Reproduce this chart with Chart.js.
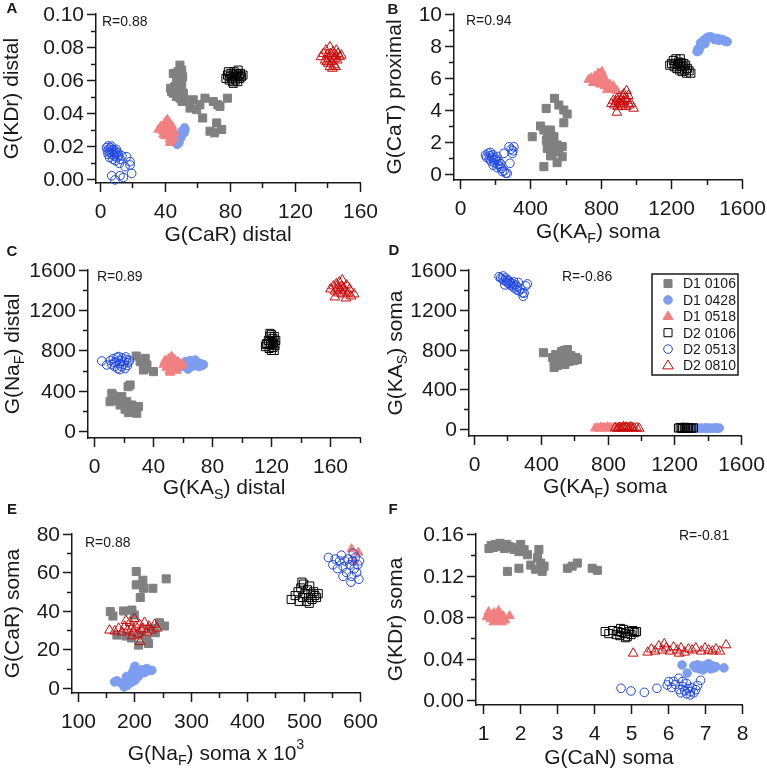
<!DOCTYPE html>
<html>
<head>
<meta charset="utf-8">
<script src="https://cdn.jsdelivr.net/npm/chart.js@4.4.1/dist/chart.umd.min.js"></script>
<style>
  html, body { margin: 0; padding: 0; background: #fff; }
  #wrap { position: relative; width: 767px; height: 773px; }
  #wrap canvas { position: absolute; left: 0; top: 0; }
</style>
</head>
<body>
<div id="wrap"></div>
<script>
const seriesNames = ['D1 0106', 'D1 0428', 'D1 0518', 'D2 0106', 'D2 0513', 'D2 0810'];

// panel A: G(CaR) distal vs G(KDr) distal
const aD1_0106 = [[49.2,0.069],[50.3,0.066],[45.1,0.064],[48,0.065],[50.9,0.062],[47.2,0.060],[49,0.058],[50.3,0.057],[43.5,0.055],[46,0.056],[48.2,0.054],[51.3,0.052],[45.1,0.052],[44,0.053],[49.2,0.049],[52.3,0.048],[47,0.050],[57.4,0.048],[64.6,0.049],[69.7,0.047],[73.8,0.044],[72.5,0.045],[61.5,0.045],[55.4,0.043],[59.5,0.042],[63.2,0.037],[71.8,0.034],[67.7,0.029],[74.9,0.030],[70.5,0.028],[78.4,0.049],[50.5,0.047]];
const aD1_0428 = [[47.0,0.022],[47.8,0.023],[48.3,0.024],[48.0,0.025],[49.0,0.026],[49.5,0.027],[50.2,0.027],[50.8,0.028],[51.5,0.029],[52.3,0.030],[51.8,0.028],[49.8,0.025],[48.6,0.022],[47.5,0.021],[50.5,0.029],[52.0,0.031]];
const aD1_0518 = [[36.0,0.030],[37.5,0.032],[38.5,0.029],[39.5,0.033],[40.5,0.035],[41.5,0.036],[42.5,0.034],[43.0,0.031],[44.5,0.032],[41.0,0.029],[39.0,0.027],[40.2,0.026],[42.0,0.027],[43.5,0.028],[44.8,0.026],[42.8,0.024],[44.0,0.023],[45.5,0.025],[41.8,0.031],[38.2,0.031],[43.0,0.022],[46.0,0.028]];
const aD2_0106 = [[77.5,0.061],[78.5,0.063],[79.5,0.060],[80.0,0.062],[80.5,0.064],[81.0,0.061],[81.5,0.059],[82.0,0.063],[82.5,0.065],[83.0,0.062],[83.5,0.060],[84.0,0.064],[84.5,0.062],[85.0,0.066],[85.5,0.063],[86.0,0.061],[86.5,0.064],[87.0,0.062],[88.0,0.063],[79.0,0.065],[82.0,0.058],[84.8,0.059]];
const aD2_0513 = [[4.0,0.019],[4.5,0.017],[5.0,0.020],[5.5,0.018],[6.0,0.016],[6.5,0.019],[7.0,0.017],[7.5,0.015],[8.0,0.018],[8.5,0.016],[9.0,0.014],[9.5,0.017],[10.0,0.015],[10.5,0.013],[11.0,0.016],[11.5,0.014],[12.5,0.012],[13.5,0.014],[6.0,0.013],[8.0,0.012],[9.5,0.011],[5.0,0.015],[7.0,0.020],[10.0,0.018],[7.2,0.002],[9.2,-0.0005],[12.3,0.002],[14.4,0.001],[19.5,0.0034],[18.5,0.0085],[15.4,0.0075],[18.5,0.0105],[16.4,0.0135],[12.0,0.0095]];
const aD2_0810 = [[136.0,0.074],[137.5,0.076],[138.5,0.072],[139.0,0.078],[140.0,0.075],[140.5,0.070],[141.0,0.073],[141.5,0.080],[142.0,0.076],[142.5,0.071],[143.0,0.074],[143.5,0.077],[144.0,0.069],[144.5,0.073],[145.0,0.075],[145.5,0.078],[146.0,0.072],[146.5,0.076],[147.5,0.074],[148.5,0.075],[143.0,0.067],[141.5,0.068],[139.5,0.071],[145.0,0.068]];

// panel B: G(KAF) soma vs G(CaT) proximal
const bD1_0106 = [[536,4.73],[561,4.31],[489,4.10],[589,4.0],[608,3.75],[589,3.2],[457,3.0],[476,2.75],[514,2.75],[410,2.33],[495,2.44],[533,2.33],[502,1.92],[551,1.81],[580,1.71],[495,1.6],[533,1.46],[561,1.4],[514,1.13],[580,1.08],[551,0.71],[476,0.46],[523,1.29],[545,1.55],[490,2.1]];
const bD1_0428 = [[1345,7.65],[1350,7.8],[1355,7.7],[1364,7.96],[1370,8.1],[1375,8.25],[1383,8.37],[1395,8.45],[1405,8.55],[1421,8.58],[1435,8.5],[1445,8.4],[1459,8.48],[1470,8.35],[1480,8.42],[1497,8.37],[1505,8.3],[1516,8.27],[1365,8.2],[1390,8.15]];
const bD1_0518 = [[730,5.9],[745,6.0],[755,5.7],[765,6.1],[775,5.8],[785,6.3],[790,6.0],[795,5.6],[800,5.9],[810,6.2],[815,5.7],[820,5.5],[830,5.8],[840,5.4],[850,5.6],[860,5.3],[870,5.5],[880,5.3],[805,6.4],[760,5.75],[835,5.25],[890,5.2]];
const bD2_0106 = [[1200,6.9],[1210,7.1],[1215,6.7],[1220,6.9],[1225,7.2],[1230,6.6],[1235,6.85],[1240,7.0],[1245,6.5],[1250,6.75],[1255,6.95],[1260,6.4],[1265,6.7],[1270,6.9],[1275,6.5],[1280,6.8],[1285,6.3],[1290,6.6],[1300,6.45],[1310,6.3],[1190,6.8],[1250,7.2]];
const bD2_0513 = [[150,1.05],[160,1.3],[165,0.95],[170,1.15],[175,0.8],[180,1.05],[185,1.2],[190,0.9],[195,0.7],[200,1.0],[205,0.85],[210,1.1],[215,0.6],[220,0.8],[225,0.5],[230,0.65],[235,0.35],[240,0.15],[250,0.2],[260,0.05],[268,0.04],[145,1.19],[278,1.7],[306,1.7],[297,1.29],[249,1.29],[283,0.67],[300,1.45],[290,1.55],[188,0.55],[172,1.35],[210,0.4]];
const bD2_0810 = [[860,4.4],[870,4.6],[875,4.3],[885,4.5],[890,4.7],[895,4.2],[900,4.5],[905,4.8],[910,4.4],[915,4.6],[920,4.3],[925,4.9],[930,4.5],[935,4.7],[940,4.2],[945,5.2],[950,4.6],[960,4.3],[970,4.4],[985,4.1],[890,3.85],[930,5.0],[955,4.9]];

// panel C: G(KAS) distal vs G(NaF) distal
const cD1_0106 = [[28.5,745],[34.6,722],[31.2,689],[35.8,656],[34.6,623],[40.2,590],[33.4,606],[24.4,457],[23,440],[12.0,374],[14.2,325],[10.8,291],[18.8,341],[22.1,291],[17.6,258],[25.5,258],[21.0,215],[26.7,209],[28.9,176],[23.3,182],[16.5,301],[30.1,242],[13,350],[20,270],[27,225]];
const cD1_0428 = [[59,640],[61,660],[62,690],[63,630],[64,660],[65,700],[66,640],[67,670],[68,650],[69,690],[70,660],[71,640],[72,670],[73,650],[74,660],[63.5,615],[68.5,705]];
const cD1_0518 = [[47,660],[48,700],[49,630],[50,680],[50.5,720],[51,600],[52,660],[52.5,740],[53,690],[54,630],[54.5,710],[55,660],[56,600],[56.5,690],[57,640],[58,670],[59,650],[60,665],[51.5,580],[49,690]];
const cD2_0106 = [[116,838],[117,870],[118,900],[118.5,820],[119,940],[119.5,860],[120,800],[120,960],[120.5,890],[121,830],[121,920],[121.5,870],[122,800],[122,940],[122.5,850],[123,900],[119,970],[116.5,860]];
const cD2_0513 = [[5.2,696],[8.6,656],[11,700],[12,660],[13,720],[14,640],[15,690],[16,620],[16.5,740],[17,670],[18,700],[18.5,640],[19,725],[20,660],[20.5,690],[21,620],[22,710],[22.5,650],[23,680],[24,700],[13.5,680],[15.5,730],[17.5,610],[21.5,735]];
const cD2_0810 = [[160,1410],[162,1440],[163,1390],[164,1460],[165,1420],[165.5,1370],[166,1480],[167,1400],[167.5,1440],[168,1360],[169,1420],[170,1390],[171,1450],[172,1370],[173,1410],[174,1340],[176,1360],[163,1330],[168,1500],[170.5,1320]];

// panel D: G(KAF) soma vs G(KAS) soma
const dD1_0106 = [[416,768],[470,720],[480,690],[490,750],[500,700],[505,660],[510,740],[520,710],[525,780],[530,680],[540,735],[545,650],[550,760],[555,700],[560,720],[570,680],[580,740],[590,700],[600,690],[610,720],[620,700],[480,619],[500,640],[560,800],[540,790]];
const dD1_0428 = [[1320,8],[1335,12],[1345,5],[1360,10],[1375,8],[1390,12],[1400,6],[1415,10],[1430,8],[1445,12],[1460,7],[1470,10]];
const dD1_0518 = [[725,8],[740,12],[750,5],[760,18],[770,10],[780,14],[790,6],[800,20],[810,9],[820,15],[830,7],[840,12],[850,18],[860,10],[875,8]];
const dD2_0106 = [[1225,10],[1235,16],[1245,6],[1250,14],[1260,8],[1265,18],[1270,12],[1280,6],[1285,15],[1295,10],[1305,8],[1315,12]];
const dD2_0513 = [[150,1533],[160,1520],[170,1510],[175,1540],[180,1495],[190,1520],[195,1480],[200,1500],[205,1465],[210,1490],[215,1450],[220,1470],[230,1440],[235,1460],[240,1420],[250,1450],[255,1400],[260,1430],[270,1390],[280,1410],[290,1370],[300,1367],[310,1440],[320,1460],[295,1335],[240,1480],[185,1450],[265,1475]];
const dD2_0810 = [[845,10],[860,6],[870,16],[880,12],[890,8],[895,22],[900,14],[910,10],[915,18],[925,6],[930,14],[940,20],[950,10],[960,8],[975,12],[990,6]];

// panel E: G(NaF) soma x 10^3 vs G(CaR) soma
const eD1_0106 = [[203.3,60.5],[203.3,53.6],[215.1,56.0],[216.2,51.8],[232.8,51.8],[210.4,47.0],[256.4,56.7],[157.3,39.7],[162,37.4],[180.9,40.0],[195.6,40.5],[199.8,37.9],[244.6,33.9],[253.5,32.2],[237,28.7],[222.2,25.2],[207.5,22.3],[225.1,23.1],[169,27.5],[185,27],[195,26],[212,27.5],[230,31]];
const eD1_0428 = [[165,3.2],[169,3.7],[175,2.8],[182,0.5],[184,2.3],[186,6],[190,4.5],[193,5.7],[196,7.5],[198,9],[201,11.3],[201,4],[204,8],[207,6],[210,7.5],[214,9.5],[218,8],[222,10.1],[226,9],[231,9.2],[195,3],[188,1.5]];
const eD1_0518 = [[585,72.2],[597,70.4],[590,66]];
const eD2_0106 = [[478,46],[485,48],[490,50],[492,45],[495,52],[498,47],[500,54],[502,49],[505,45],[507,51],[509,47],[511,53],[513,49],[515,46],[518,50],[520,48],[523,47],[526,49],[497,55],[510,44]];
const eD2_0513 = [[544,67.8],[552,64],[556,67],[560,62],[564,66],[567,69],[570,63],[573,66],[576,60],[579,67],[582,64],[585,58],[587,66],[590,62],[592,68],[594,60],[596,64],[598,56.5],[599,66],[584,55],[570,58],[588,70]];
const eD2_0810 = [[156,30],[165,29.5],[172,31],[178,29],[183,32],[188,30],[192,34],[195,31],[198,29],[200,36],[203,32],[206,28],[209,33],[212,30],[215,31],[218,34],[222,29],[226,32],[230,30],[236,33],[240,31],[210,24],[185,35],[196,27]];

// panel F: G(CaN) soma vs G(KDr) soma
const fD1_0106 = [[1.16,0.146],[1.22,0.149],[1.28,0.147],[1.34,0.150],[1.40,0.148],[1.46,0.151],[1.52,0.149],[1.58,0.146],[1.64,0.150],[1.70,0.148],[1.78,0.147],[1.84,0.145],[2.02,0.150],[2.11,0.145],[2.20,0.140],[1.97,0.143],[1.66,0.124],[1.97,0.127],[2.29,0.130],[2.51,0.145],[2.47,0.137],[2.56,0.132],[2.42,0.126],[2.60,0.124],[2.65,0.129],[3.28,0.127],[3.41,0.129],[3.55,0.132],[3.95,0.127],[4.09,0.125]];
const fD1_0428 = [[6.38,0.0338],[6.52,0.026],[6.70,0.033],[6.75,0.031],[6.80,0.034],[6.85,0.030],[6.90,0.032],[6.95,0.033],[7.00,0.031],[7.05,0.034],[7.10,0.032],[7.15,0.030],[7.20,0.033],[7.25,0.031],[7.30,0.032],[7.51,0.031],[6.95,0.029],[7.10,0.035]];
const fD1_0518 = [[1.10,0.080],[1.15,0.085],[1.20,0.078],[1.25,0.082],[1.30,0.084],[1.35,0.076],[1.40,0.080],[1.45,0.083],[1.50,0.078],[1.55,0.081],[1.60,0.077],[1.72,0.081],[1.28,0.075],[1.42,0.086],[1.52,0.075]];
const fD2_0106 = [[4.30,0.066],[4.40,0.064],[4.50,0.067],[4.60,0.063],[4.65,0.066],[4.70,0.062],[4.75,0.065],[4.80,0.068],[4.85,0.064],[4.90,0.061],[4.95,0.066],[5.00,0.063],[5.05,0.067],[5.10,0.065],[5.15,0.066],[4.85,0.060],[4.72,0.069]];
const fD2_0513 = [[4.73,0.0113],[5.0,0.0087],[5.36,0.0074],[5.7,0.0113],[5.98,0.0145],[6.02,0.0177],[6.29,0.021],[6.88,0.019],[6.10,0.012],[6.20,0.015],[6.30,0.010],[6.35,0.007],[6.40,0.013],[6.45,0.009],[6.50,0.006],[6.55,0.011],[6.60,0.008],[6.65,0.012],[6.70,0.007],[6.75,0.010],[6.80,0.014],[6.50,0.016],[6.40,0.018],[6.15,0.018],[6.60,0.005]];
const fD2_0810 = [[5.06,0.045],[5.45,0.046],[5.55,0.049],[5.65,0.047],[5.75,0.052],[5.85,0.048],[5.95,0.050],[6.05,0.047],[6.15,0.051],[6.25,0.048],[6.35,0.050],[6.45,0.046],[6.55,0.049],[6.65,0.048],[6.75,0.050],[6.90,0.047],[7.00,0.050],[7.10,0.048],[7.20,0.047],[7.30,0.049],[7.40,0.047],[7.57,0.053],[5.90,0.054],[6.30,0.045]];

const rValues = ['R=0.88', 'R=0.94', 'R=0.89', 'R=-0.86', 'R=0.88', 'R=-0.81'];

const FONT = '"Liberation Sans", Arial, Helvetica, sans-serif';
const INK = '#1a1a1a';

// marker look per series
const styles = [
  { shape: 'rect', r: 5.7, fill: 'rgb(128,128,128)', line: 'rgb(128,128,128)' },
  { shape: 'circle', r: 4.3, fill: 'rgb(125,157,240)', line: 'rgb(125,157,240)' },
  { shape: 'triangle', r: 5.3, fill: 'rgb(242,128,128)', line: 'rgb(242,128,128)' },
  { shape: 'rect', r: 5.7, fill: 'rgba(0,0,0,0)', line: '#000' },
  { shape: 'circle', r: 4.3, fill: 'rgba(0,0,0,0)', line: 'rgb(30,70,225)' },
  { shape: 'triangle', r: 5.6, fill: 'rgba(0,0,0,0)', line: 'rgb(200,10,10)' }
];

// box = [left, top, right, bottom] of the plot frame
const panels = [
  { letter: 'A', data: [aD1_0106, aD1_0428, aD1_0518, aD2_0106, aD2_0513, aD2_0810],
    box: [96, 14, 360, 183], x: { min: -2.46, max: 160, minor: 20, major: 40 }, y: { min: -0.0024, max: 0.10, minor: 0.01, major: 0.02, dec: 2 },
    xTitle: [['G(CaR) distal']], yTitle: [['G(KDr) distal']], xt: 235, yt: 12, lp: [12, 9], rp: [102, 22] },
  { letter: 'B', data: [bD1_0106, bD1_0428, bD1_0518, bD2_0106, bD2_0513, bD2_0810],
    box: [454, 14, 742, 180], x: { min: -34, max: 1600, minor: 200, major: 400 }, y: { min: -0.375, max: 10, minor: 1, major: 2 },
    xTitle: [['G(KA'], ['F', 1], [') soma']], yTitle: [['G(CaT) proximal']], xt: 232, yt: 395, lp: [393, 10], rp: [466, 21] },
  { letter: 'C', data: [cD1_0106, cD1_0428, cD1_0518, cD2_0106, cD2_0513, cD2_0810],
    box: [88, 270, 360, 438], x: { min: -4.1, max: 180, minor: 20, major: 40 }, y: { min: -70, max: 1600, minor: 200, major: 400 },
    xTitle: [['G(KA'], ['S', 1], [') distal']], yTitle: [['G(Na'], ['F', 1], [') distal']], xt: 488, yt: 13, lp: [12, 252], rp: [97, 277] },
  { letter: 'D', data: [dD1_0106, dD1_0428, dD1_0518, dD2_0106, dD2_0513, dD2_0810],
    box: [469, 270, 741, 436], x: { min: -30, max: 1600, minor: 200, major: 400 }, y: { min: -70, max: 1600, minor: 200, major: 400 },
    xTitle: [['G(KA'], ['F', 1], [') soma']], yTitle: [['G(KA'], ['S', 1], [') soma']], xt: 487, yt: 396, lp: [394, 251], rp: [562, 277], legend: true },
  { letter: 'E', data: [eD1_0106, eD1_0428, eD1_0518, eD2_0106, eD2_0513, eD2_0810],
    box: [72, 534, 360, 693], x: { min: 89.4, max: 600, minor: 50, major: 100 }, y: { min: -2.6, max: 80, minor: 10, major: 20 },
    xTitle: [['G(Na'], ['F', 1], [') soma x 10'], ['3', 2]], yTitle: [['G(CaR) soma']], xt: 754, yt: 13, lp: [12, 510], rp: [85, 543] },
  { letter: 'F', data: [fD1_0106, fD1_0428, fD1_0518, fD2_0106, fD2_0513, fD2_0810],
    box: [476, 534, 742, 705], x: { min: 0.81, max: 8, minor: 1, major: 1 }, y: { min: -0.0048, max: 0.16, minor: 0.02, major: 0.04, dec: 2 },
    xTitle: [['G(CaN) soma']], yTitle: [['G(KDr) soma']], xt: 758, yt: 396, lp: [393, 510], rp: [679, 536] }
];

function isMajor(v, step) {
  const q = v / step;
  return Math.abs(q - Math.round(q)) < 1e-6;
}

function fmt(v, a) {
  return a.dec ? v.toFixed(a.dec) : String(Math.round(v));
}

// the y scale fills the space left of the frame, the x scale the space below it
function axisOptions(a, dir, size) {
  return {
    type: 'linear',
    min: a.min,
    max: a.max,
    afterFit: s => { if (dir === 'x') s.height = size; else s.width = size; },
    // ticks on every multiple of the minor step inside the range
    afterBuildTicks: s => {
      const out = [];
      for (let k = Math.ceil(a.min / a.minor - 1e-9); k * a.minor <= a.max + 1e-9; k++) {
        out.push({ value: +(k * a.minor).toFixed(6) });
      }
      s.ticks = out;
    },
    grid: { display: false },
    border: { display: true, color: INK, width: 1.5 },
    ticks: { display: false, autoSkip: false }
  };
}

function richText(ctx, parts, cx, cy, size, rotate) {
  ctx.save();
  ctx.translate(cx, cy);
  if (rotate) ctx.rotate(-Math.PI / 2);
  let w = 0;
  const segs = parts.map(p => {
    const s = p[1] ? size * 0.68 : size;
    ctx.font = s + 'px ' + FONT;
    const m = ctx.measureText(p[0]).width;
    w += m;
    return { t: p[0], s: s, m: m, dy: p[1] === 1 ? size * 0.32 : p[1] === 2 ? -size * 0.42 : 0 };
  });
  let x = -w / 2;
  ctx.textBaseline = 'middle';
  ctx.textAlign = 'left';
  ctx.fillStyle = INK;
  segs.forEach(g => {
    ctx.font = g.s + 'px ' + FONT;
    ctx.fillText(g.t, x, g.dy);
    x += g.m;
  });
  ctx.restore();
}

function marker(ctx, st, x, y) {
  ctx.beginPath();
  if (st.shape === 'rect') {
    const h = st.r * Math.SQRT1_2;
    ctx.rect(x - h, y - h, 2 * h, 2 * h);
  } else if (st.shape === 'circle') {
    ctx.arc(x, y, st.r, 0, Math.PI * 2);
  } else {
    ctx.moveTo(x, y - st.r);
    ctx.lineTo(x + st.r * 0.95, y + st.r * 0.6);
    ctx.lineTo(x - st.r * 0.95, y + st.r * 0.6);
    ctx.closePath();
  }
  ctx.fillStyle = st.fill;
  ctx.fill();
  ctx.strokeStyle = st.line;
  ctx.lineWidth = 1;
  ctx.stroke();
}

// tick marks and tick labels, placed with the chart's own scales
function axisMarks(p) {
  return {
    id: 'axisMarks',
    afterDraw(chart) {
      const ctx = chart.ctx, area = chart.chartArea;
      const xs = chart.scales.x, ys = chart.scales.y;
      ctx.save();
      ctx.strokeStyle = INK;
      ctx.fillStyle = INK;
      ctx.lineWidth = 1.5;
      ctx.font = '21px ' + FONT;
      ctx.beginPath();
      ctx.textAlign = 'center';
      ctx.textBaseline = 'middle';
      xs.ticks.forEach(t => {
        const major = isMajor(t.value, p.x.major);
        const px = Math.round(xs.getPixelForValue(t.value)) + 0.5;
        ctx.moveTo(px, area.bottom);
        ctx.lineTo(px, area.bottom + (major ? 9 : 5));
        if (major) ctx.fillText(fmt(t.value, p.x), px, area.bottom + 29);
      });
      ctx.textAlign = 'right';
      ys.ticks.forEach(t => {
        const major = isMajor(t.value, p.y.major);
        const py = Math.round(ys.getPixelForValue(t.value)) + 0.5;
        ctx.moveTo(area.left, py);
        ctx.lineTo(area.left - (major ? 9 : 5), py);
        if (major) ctx.fillText(fmt(t.value, p.y), area.left - 12, py + 1);
      });
      ctx.stroke();
      ctx.restore();
    }
  };
}

function panelText(p, idx) {
  return {
    id: 'panelText',
    afterDraw(chart) {
      const ctx = chart.ctx, area = chart.chartArea;
      ctx.save();
      ctx.fillStyle = INK;
      ctx.textBaseline = 'middle';
      ctx.textAlign = 'center';
      ctx.font = 'bold 15px ' + FONT;
      ctx.fillText(p.letter, p.lp[0], p.lp[1]);
      ctx.textAlign = 'left';
      ctx.font = '14px ' + FONT;
      ctx.fillText(rValues[idx], p.rp[0], p.rp[1]);
      ctx.restore();
      richText(ctx, p.xTitle, (area.left + area.right) / 2, p.xt, 21, false);
      richText(ctx, p.yTitle, p.yt, (area.top + area.bottom) / 2, 21, true);
      if (p.legend) {
        ctx.save();
        ctx.strokeStyle = INK;
        ctx.lineWidth = 1.5;
        ctx.strokeRect(652, 274, 86, 101);
        ctx.font = '14px ' + FONT;
        ctx.textAlign = 'left';
        ctx.textBaseline = 'middle';
        chart.data.datasets.forEach((ds, i) => {
          const y = 283.5 + i * 16.4;
          marker(ctx, styles[i], 668, y);
          ctx.fillStyle = INK;
          ctx.fillText(ds.label, 683, y + 1);
        });
        ctx.restore();
      }
    }
  };
}

const wrap = document.getElementById('wrap');
const W = 767, H = 773;

panels.forEach((p, idx) => {
  const canvas = document.createElement('canvas');
  canvas.width = W;
  canvas.height = H;
  wrap.appendChild(canvas);
  new Chart(canvas, {
    type: 'scatter',
    data: {
      datasets: p.data.map((d, i) => ({
        label: seriesNames[i],
        data: d.map(v => ({ x: v[0], y: v[1] })),
        pointStyle: styles[i].shape,
        pointRadius: styles[i].r,
        backgroundColor: styles[i].fill,
        borderColor: styles[i].line,
        borderWidth: 1,
        order: 5 - i,
        clip: false
      }))
    },
    options: {
      responsive: false,
      animation: false,
      events: [],
      layout: {
        autoPadding: false,
        padding: { left: 0, top: p.box[1], right: W - p.box[2], bottom: 0 }
      },
      plugins: { legend: { display: false }, tooltip: { enabled: false } },
      scales: { x: axisOptions(p.x, 'x', H - p.box[3]), y: axisOptions(p.y, 'y', p.box[0]) }
    },
    plugins: [axisMarks(p), panelText(p, idx)]
  });
});
</script>
</body>
</html>
